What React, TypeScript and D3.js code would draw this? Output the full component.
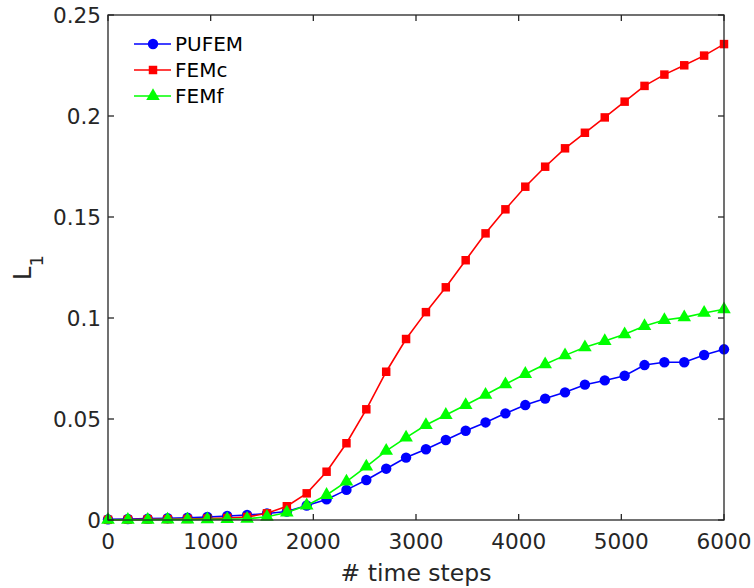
import React from 'react'
import * as d3 from 'd3'

// values, 32 samples from 0 to 6000 time steps
const steps = d3.range(32).map(i => (i * 6000) / 31)

const pufem = [
  0.0003, 0.0005, 0.0007, 0.0009, 0.0011, 0.0015, 0.002, 0.0025, 0.0032, 0.0042,
  0.0072, 0.0102, 0.0149, 0.0198, 0.0254, 0.0309, 0.035, 0.0396, 0.0442, 0.0483,
  0.0528, 0.0569, 0.0601, 0.0632, 0.067, 0.0691, 0.0714, 0.0767, 0.0781, 0.0781,
  0.0817, 0.0845,
]
const femc = [
  0.0001, 0.0002, 0.0003, 0.0004, 0.0005, 0.0007, 0.001, 0.0015, 0.0033, 0.0068,
  0.0132, 0.0239, 0.038, 0.0548, 0.0734, 0.0896, 0.1029, 0.1152, 0.1286, 0.1419,
  0.1538, 0.165, 0.1749, 0.184, 0.1917, 0.1993, 0.2071, 0.2149, 0.2205, 0.2251,
  0.2299, 0.2356,
]
const femf = [
  0.0001, 0.0001, 0.0001, 0.0002, 0.0002, 0.0003, 0.0004, 0.0006, 0.0016, 0.0037,
  0.0072, 0.0124, 0.019, 0.0264, 0.0342, 0.0408, 0.047, 0.052, 0.0569, 0.062,
  0.0672, 0.0723, 0.0771, 0.0815, 0.0855, 0.0886, 0.0919, 0.096, 0.099, 0.1003,
  0.1025, 0.1043,
]

const xTicks = [0, 1000, 2000, 3000, 4000, 5000, 6000]
const yTicks = [0, 0.05, 0.1, 0.15, 0.2, 0.25]

const series = [
  { name: 'PUFEM', values: pufem, color: '#0000ff', shape: 'circle' },
  { name: 'FEMc', values: femc, color: '#ff0000', shape: 'square' },
  { name: 'FEMf', values: femf, color: '#00ff00', shape: 'triangle' },
]

const W = 754
const H = 588
const left = 108
const right = 724
const top = 15
const bottom = 520
const axisColor = '#262626'
const font = 'DejaVu Sans'

function marker(shape: string) {
  if (shape === 'circle') return d3.symbol(d3.symbolCircle, 85)()
  if (shape === 'square') return d3.symbol(d3.symbolSquare, 72)()
  return d3.symbol(d3.symbolTriangle, 80)()
}

export default function App() {
  const x = d3.scaleLinear().domain([0, 6000]).range([left, right])
  const y = d3.scaleLinear().domain([0, 0.25]).range([bottom, top])
  const line = d3.line<number>().x((d, i) => x(steps[i])).y(d => y(d))

  return (
    <svg width={W} height={H} style={{ position: 'absolute', left: 0, top: 0 }}>
      <rect width={W} height={H} fill="#fff" />
      {series.map(s => (
        <g key={s.name}>
          <path d={line(s.values) || ''} fill="none" stroke={s.color} strokeWidth={1.6} />
          {s.values.map((v, i) => (
            <path key={i} d={marker(s.shape) || ''} transform={`translate(${x(steps[i])},${y(v)})`} fill={s.color} />
          ))}
        </g>
      ))}

      <rect x={left} y={top} width={right - left} height={bottom - top} fill="none" stroke={axisColor} strokeWidth={1.3} />
      {xTicks.map(t => (
        <g key={t}>
          <line x1={x(t)} x2={x(t)} y1={bottom} y2={bottom - 6} stroke={axisColor} strokeWidth={1.3} />
          <line x1={x(t)} x2={x(t)} y1={top} y2={top + 6} stroke={axisColor} strokeWidth={1.3} />
          <text x={x(t)} y={bottom + 29} textAnchor="middle" fontFamily={font} fontSize={21.6} fill={axisColor}>{t}</text>
        </g>
      ))}
      {yTicks.map(t => (
        <g key={t}>
          <line x1={left} x2={left + 6} y1={y(t)} y2={y(t)} stroke={axisColor} strokeWidth={1.3} />
          <line x1={right} x2={right - 6} y1={y(t)} y2={y(t)} stroke={axisColor} strokeWidth={1.3} />
          <text x={left - 7} y={y(t) + 7.5} textAnchor="end" fontFamily={font} fontSize={21.6} fill={axisColor}>{t}</text>
        </g>
      ))}

      <text x={(left + right) / 2} y={581} textAnchor="middle" fontFamily={font} fontSize={23.5} fill={axisColor}># time steps</text>
      <text transform={`translate(31,${(top + bottom) / 2}) rotate(-90)`} textAnchor="middle" fontFamily={font} fontSize={24} fill={axisColor}>
        L<tspan fontSize={18} dy={12}>1</tspan>
      </text>

      {series.map((s, k) => (
        <g key={s.name} transform={`translate(0,${44 + k * 26})`}>
          <line x1={134} x2={171} y1={0} y2={0} stroke={s.color} strokeWidth={1.6} />
          <path d={marker(s.shape) || ''} transform="translate(153,0)" fill={s.color} />
          <text x={175} y={7} fontFamily={font} fontSize={20} fill="#000">{s.name}</text>
        </g>
      ))}
    </svg>
  )
}
